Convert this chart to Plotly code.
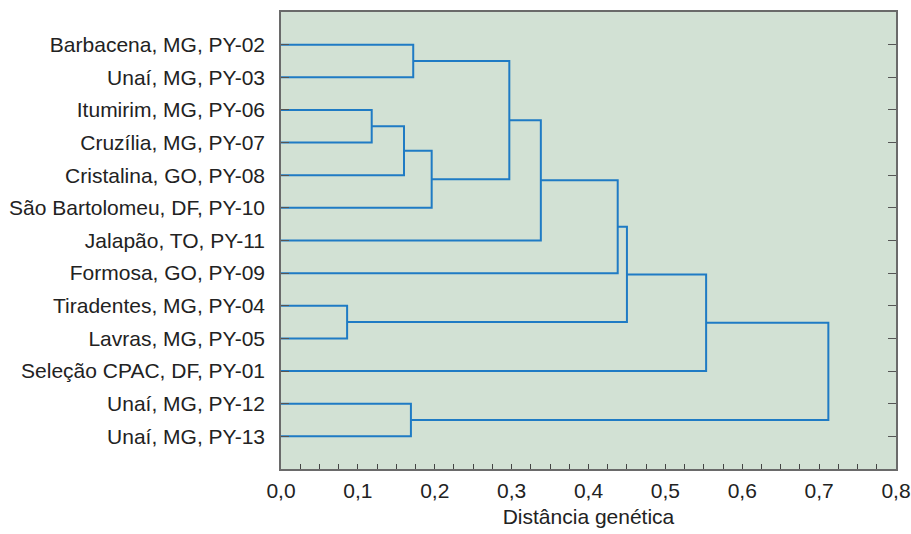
import plotly.graph_objects as go

# Leaves in dendrogram order (top to bottom)
leaves = [
    "Barbacena, MG, PY-02",
    "Unaí, MG, PY-03",
    "Itumirim, MG, PY-06",
    "Cruzília, MG, PY-07",
    "Cristalina, GO, PY-08",
    "São Bartolomeu, DF, PY-10",
    "Jalapão, TO, PY-11",
    "Formosa, GO, PY-09",
    "Tiradentes, MG, PY-04",
    "Lavras, MG, PY-05",
    "Seleção CPAC, DF, PY-01",
    "Unaí, MG, PY-12",
    "Unaí, MG, PY-13",
]

# Merges: (left child, right child, genetic distance); children are leaf indices
# or "c<k>" for the k-th merge cluster
merge_left = [0, 2, "c1", "c2", "c0", "c4", "c5", 8, "c6", "c8", 11, "c9"]
merge_right = [1, 3, 4, 5, "c3", 6, 7, 9, "c7", 10, 12, "c10"]
merge_height = [0.172, 0.118, 0.160, 0.196, 0.297, 0.338, 0.438, 0.086, 0.450, 0.553, 0.169, 0.712]

x_ticks = [0.0, 0.1, 0.2, 0.3, 0.4, 0.5, 0.6, 0.7, 0.8]

LINE = "#1f7bc4"
FS = 21

pos = {}
height = {}
for i in range(len(leaves)):
    pos[i] = float(i)
    height[i] = 0.0

xs, ys = [], []
for k, (a, b, h) in enumerate(zip(merge_left, merge_right, merge_height)):
    ya, yb = pos[a], pos[b]
    xa, xb = height[a], height[b]
    xs += [xa, h, h, xb, None]
    ys += [ya, ya, yb, yb, None]
    pos["c%d" % k] = (ya + yb) / 2
    height["c%d" % k] = h

fig = go.Figure()
fig.add_trace(go.Scatter(x=xs, y=ys, mode="lines",
                         line=dict(color=LINE, width=2),
                         hoverinfo="skip", showlegend=False))

fig.update_layout(
    width=911, height=534,
    margin=dict(l=281, r=15, t=12, b=65),
    paper_bgcolor="white",
    plot_bgcolor="#d2e1d4",
    separators=",.",
    font=dict(family="Liberation Sans, Arial, sans-serif", size=FS, color="#222222"),
    showlegend=False,
)
fig.update_xaxes(
    range=[0, 0.8], tickvals=x_ticks, tickformat=".1f",
    showgrid=False, zeroline=False, automargin=False,
    showline=True, linecolor="#6a6a6a", linewidth=1.5, mirror=True,
    ticks="inside", ticklen=5, tickcolor="#444444", tickwidth=1,
    minor=dict(dtick=0.025, tick0=0, ticks="inside", ticklen=5, tickcolor="#444444", tickwidth=1),
    tickfont=dict(size=FS, color="#222222"),
    ticklabelstandoff=2,
    title=dict(text="Distância genética", font=dict(size=FS, color="#222222"), standoff=8),
)
fig.update_yaxes(
    range=[13, -1], tickvals=list(range(len(leaves))), ticktext=leaves,
    showgrid=False, zeroline=False, automargin=False,
    showline=True, linecolor="#6a6a6a", linewidth=1.5, mirror="ticks",
    ticks="inside", ticklen=8, tickcolor="#555555", tickwidth=1,
    tickfont=dict(size=FS, color="#222222"),
    ticklabelstandoff=10,
)

fig.write_html(
    "out.html",
    config={"displayModeBar": False},
    post_script="document.body.style.margin='0';document.body.style.overflow='hidden';",
)
